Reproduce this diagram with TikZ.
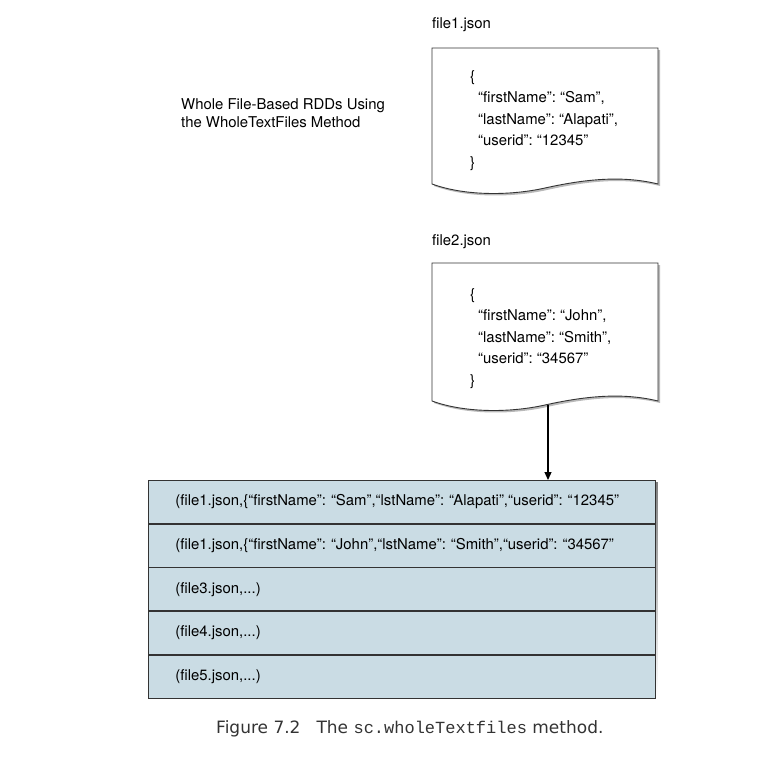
\documentclass[tikz,border=0pt]{standalone}
\usepackage{fontspec}
\setmainfont{TeX Gyre Heros}
\newfontfamily\capfont{DejaVu Sans}
\setmonofont{Liberation Mono}
\usetikzlibrary{arrows.meta}
\frenchspacing
\definecolor{rowfill}{HTML}{CADCE4}
\definecolor{edge}{HTML}{333333}
\definecolor{capgray}{HTML}{333333}
\definecolor{shade}{HTML}{8A8A8A}
\newcommand\docoutline[2]{(432,#1) -- (658,#1) -- (658,#2)
  .. controls (625,#2-8) and (590,#2-6) .. (545,#2+4)
  .. controls (510,#2+11.8) and (465,#2+12) .. (432,#2) -- cycle}
\begin{document}
\begin{tikzpicture}[x=1pt,y=-1pt,
  txt/.style={font=\fontsize{14.9}{21.5}\selectfont, inner sep=0pt, text=black},
  label/.style={txt, anchor=west},
  docbody/.style={draw=edge, fill=white, line width=0.9pt},
  docshadow/.style={fill=shade, opacity=0.6},
  rowbox/.style={txt, draw=edge, fill=rowfill, line width=0.9pt, anchor=north west,
    minimum width=507pt, minimum height=42.8pt, inner xsep=27pt, inner ysep=0pt,
    text width=453pt, align=left},
  conn/.style={draw=black, line width=1.2pt, -{Triangle[length=8pt,width=7pt]}}
]
\useasboundingbox (0,0) rectangle (778,756);

% title
\node[label, align=left, font=\fontsize{14.9}{18.5}\selectfont, anchor=north west] (title) at (181,98)
  {Whole File-Based RDDs Using\\the WholeTextFiles Method};

% document 1
\node[label] (f1lab) at (432,25) {file1.json};
\fill[docshadow, shift={(2,2)}] \docoutline{48}{184};
\path[docbody] \docoutline{48}{184};
\node[txt, anchor=north west, align=left] (doc1) at (470,70)
  {\{\\\hspace{8pt}“firstName”: “Sam”,\\\hspace{8pt}“lastName”: “Alapati”,\\\hspace{8pt}“userid”: “12345”\\\}};

% document 2
\node[label] (f2lab) at (432,242) {file2.json};
\fill[docshadow, shift={(2,2)}] \docoutline{263}{401};
\path[docbody] \docoutline{263}{401};
\node[txt, anchor=north west, align=left] (doc2) at (470,288)
  {\{\\\hspace{8pt}“firstName”: “John”,\\\hspace{8pt}“lastName”: “Smith”,\\\hspace{8pt}“userid”: “34567”\\\}};
\coordinate (d2b) at (548,405);

% table
\fill[shade] (150,482) rectangle (657.8,696);
\node[rowbox] (r1) at (148,480) {(file1.json,\{“firstName”: “Sam”,“lstName”: “Alapati”,“userid”: “12345”};
\node[rowbox] (r2) at (r1.south west) {(file1.json,\{“firstName”: “John”,“lstName”: “Smith”,“userid”: “34567”};
\node[rowbox] (r3) at (r2.south west) {(file3.json,...)};
\node[rowbox] (r4) at (r3.south west) {(file4.json,...)};
\node[rowbox] (r5) at (r4.south west) {(file5.json,...)};

% connector
\draw[conn] (d2b) -- (d2b |- r1.north);

% caption
\node[anchor=west, inner sep=0pt, text=capgray] (cap) at (216,729)
  {\capfont\fontsize{17}{20}\selectfont Figure 7.2\hspace{16pt}The \texttt{\fontsize{17}{20}\selectfont sc.wholeTextfiles} method.};
\end{tikzpicture}
\end{document}
